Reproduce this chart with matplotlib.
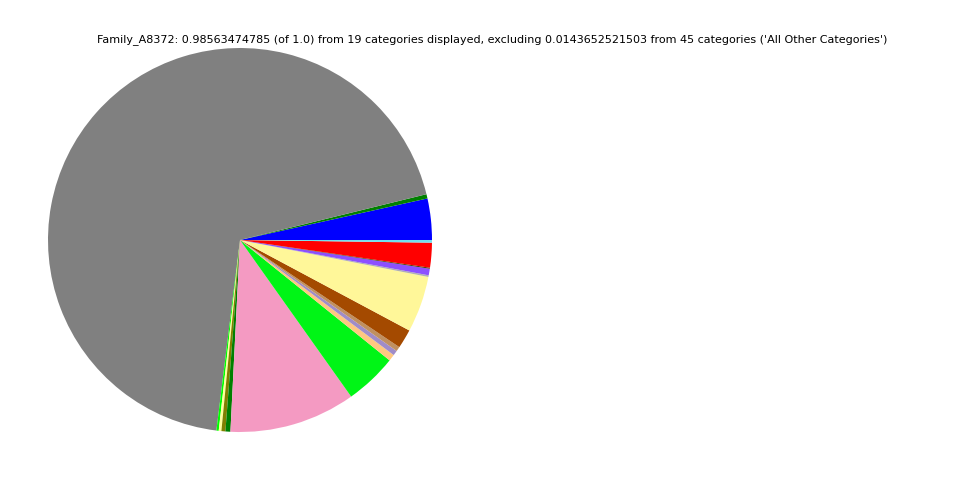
import matplotlib
matplotlib.use('Agg')
import matplotlib.pyplot as plt

# slice values, counterclockwise from 3 o'clock
values = [0.03422, 0.00356, 0.68170, 0.00192, 0.00219, 0.00329, 0.00411,
          0.10460, 0.04326, 0.00548, 0.00411, 0.00383, 0.01588, 0.04654,
          0.00137, 0.00548, 0.00082, 0.02053, 0.00219]
colors = ['#0000FF', '#008000', '#808080', '#00FF00', '#FFFF99', '#808000',
          '#008000', '#F49AC2', '#00F516', '#FFC880', '#A08CC8', '#C09060',
          '#A44A00', '#FFF799', '#B0B0B0', '#8C50FF', '#3C3C00', '#FF0000',
          '#70E0F0']
title = ("Family_A8372: 0.98563474785 (of 1.0) from 19 categories displayed, "
         "excluding 0.0143652521503 from 45 categories ('All Other Categories')")

fig = plt.figure(figsize=(9.6, 4.8), dpi=100)
ax = fig.add_axes([0, 0, 0.5, 1])
ax.pie(values, colors=colors, startangle=0, counterclock=True)
ax.set_aspect('equal')
fig.text(0.5125, 0.9167, title, ha='center', va='center', fontsize=8)
fig.savefig('out.png', dpi=100)
